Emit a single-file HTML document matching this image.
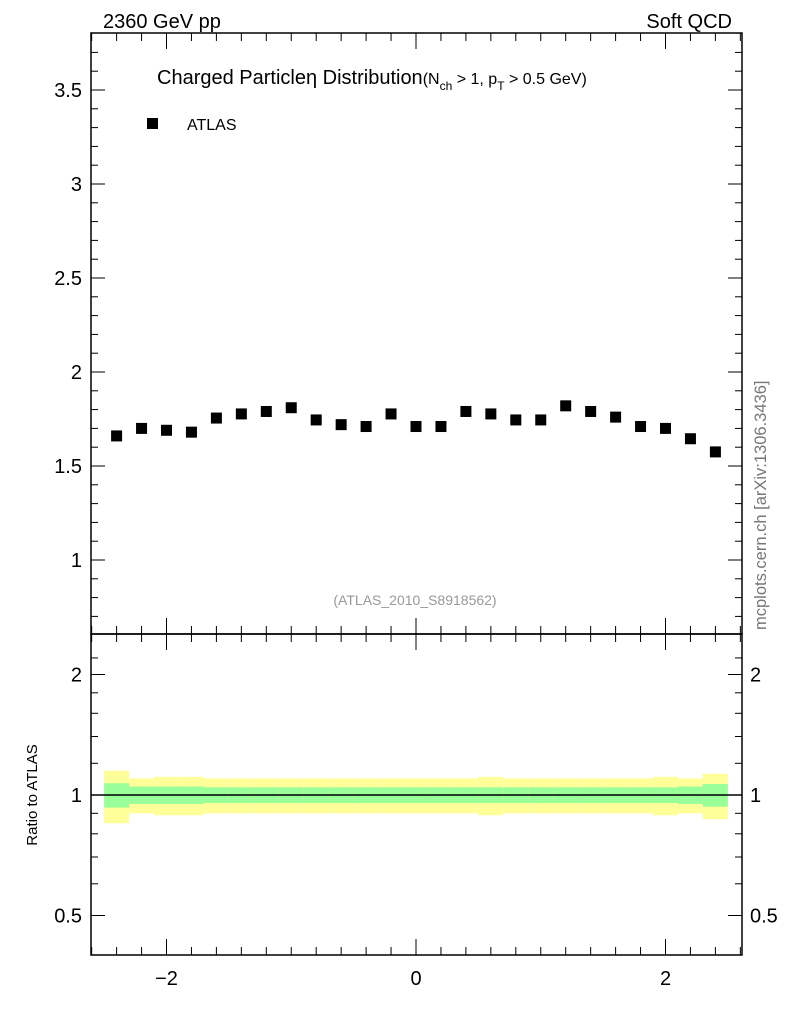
<!DOCTYPE html>
<html><head><meta charset="utf-8"><style>
body{margin:0;background:#fff;font-family:"Liberation Sans",sans-serif}
svg text{font-family:"Liberation Sans",sans-serif}
</style></head><body>
<svg width="786" height="1024" xmlns="http://www.w3.org/2000/svg">
<text x="103" y="28" font-size="20">2360 GeV pp</text>
<text x="732" y="28" font-size="20" text-anchor="end">Soft QCD</text>
<text x="157" y="84" font-size="20">Charged Particleη Distribution<tspan font-size="16">(N</tspan><tspan font-size="12" dy="6">ch</tspan><tspan font-size="16" dy="-6"> &gt; 1, p</tspan><tspan font-size="12" dy="6">T</tspan><tspan font-size="16" dy="-6"> &gt; 0.5 GeV)</tspan></text>
<rect x="147" y="118" width="11" height="11" fill="#000"/>
<text x="187" y="130" font-size="16">ATLAS</text>
<text x="415" y="605" font-size="14" fill="#999" text-anchor="middle">(ATLAS_2010_S8918562)</text>
<text transform="translate(766,630) rotate(-90)" font-size="16.5" fill="#777">mcplots.cern.ch [arXiv:1306.3436]</text>
<text transform="translate(37,795) rotate(-90)" font-size="15" text-anchor="middle">Ratio to ATLAS</text>
<g id="bands"></g>
<g id="axes"></g>
<g id="pts"></g>
</svg>
<script>
const etas=[-2.4,-2.2,-2.0,-1.8,-1.6,-1.4,-1.2,-1.0,-0.8,-0.6,-0.4,-0.2,0,0.2,0.4,0.6,0.8,1.0,1.2,1.4,1.6,1.8,2.0,2.2,2.4];
const values=[1.66,1.70,1.69,1.68,1.755,1.777,1.79,1.81,1.745,1.72,1.71,1.777,1.71,1.71,1.79,1.777,1.745,1.745,1.82,1.79,1.76,1.71,1.70,1.645,1.575];
const statErr=[0.07,0.05,0.05,0.05,0.045,0.045,0.045,0.045,0.045,0.045,0.045,0.045,0.045,0.045,0.045,0.045,0.045,0.045,0.045,0.045,0.045,0.045,0.045,0.05,0.065];
const totErr=[0.15,0.1,0.11,0.11,0.1,0.1,0.1,0.1,0.1,0.1,0.1,0.1,0.1,0.1,0.1,0.11,0.1,0.1,0.1,0.1,0.1,0.1,0.11,0.1,0.13];
const mainTicks=[1,1.5,2,2.5,3,3.5];
const ratioTicks=[0.5,1,2];
const xTicks=[-2,0,2];
const NS="http://www.w3.org/2000/svg";
const L=91,R=742,T=33,MB=634,RB=955;
const X=e=>416+e*124.75;
const Y=v=>560-(v-1)*188;
const YR=r=>795-Math.log2(r)*120.5;
function mk(tag,attrs,parent){const el=document.createElementNS(NS,tag);for(const k in attrs)el.setAttribute(k,attrs[k]);document.getElementById(parent).appendChild(el);return el;}
etas.forEach((e,i)=>{
 const x0=X(e-0.1),w=X(e+0.1)-x0;
 let r=mk('rect',{x:x0,y:YR(1+totErr[i]),width:w,height:YR(1-totErr[i])-YR(1+totErr[i]),fill:'#ffff99'},'bands');
 
 
 r=mk('rect',{x:x0,y:YR(1+statErr[i]),width:w,height:YR(1-statErr[i])-YR(1+statErr[i]),fill:'#99ff99'},'bands');
 
 
 const p=mk('rect',{x:X(e)-5.5,y:Y(values[i])-5.5,width:11,height:11,fill:'#000'},'pts');
 
 
});
const ax='axes';
mk('rect',{x:L,y:T,width:R-L,height:MB-T,fill:'none',stroke:'#000','stroke-width':1.5},ax);
mk('rect',{x:L,y:MB,width:R-L,height:RB-MB,fill:'none',stroke:'#000','stroke-width':1.5},ax);
mk('line',{x1:L,x2:R,y1:YR(1),y2:YR(1),stroke:'#000','stroke-width':1.5},ax);
for(let v=0.7;v<=3.8;v+=0.1){const y=Y(v);if(y<T||y>MB)continue;const big=Math.abs(v*2-Math.round(v*2))<1e-6;const l=big?14:7;
 mk('line',{x1:L,x2:L+l,y1:y,y2:y,stroke:'#000'},ax);mk('line',{x1:R-l,x2:R,y1:y,y2:y,stroke:'#000'},ax);}
mainTicks.forEach(v=>{const t=mk('text',{x:82,y:Y(v)+7,'font-size':20,'text-anchor':'end'},ax);t.textContent=String(v);
 
 });
[0.5,0.6,0.7,0.8,0.9,1,1.2,1.4,1.6,1.8,2,2.2].forEach(r=>{const y=YR(r);if(y<MB||y>RB)return;const big=ratioTicks.includes(r);const l=big?14:7;
 mk('line',{x1:L,x2:L+l,y1:y,y2:y,stroke:'#000'},ax);mk('line',{x1:R-l,x2:R,y1:y,y2:y,stroke:'#000'},ax);});
ratioTicks.forEach(r=>{let t=mk('text',{x:82,y:YR(r)+7,'font-size':20,'text-anchor':'end'},ax);t.textContent=String(r);
 
 
 t=mk('text',{x:750,y:YR(r)+7,'font-size':20},ax);t.textContent=String(r);
 
 });
for(let e=-2.6;e<=2.61;e+=0.2){const x=X(e);if(x<L||x>R)continue;
 [[T,1],[MB,-1],[MB,1],[RB,-1]].forEach(([y0,d])=>mk('line',{x1:x,x2:x,y1:y0,y2:y0+d*8,stroke:'#000'},ax));}
xTicks.forEach(e=>{const x=X(e);[[T,1],[MB,-1],[MB,1],[RB,-1]].forEach(([y0,d])=>mk('line',{x1:x,x2:x,y1:y0,y2:y0+d*16,stroke:'#000'},ax));
 const t=mk('text',{x:x,y:985,'font-size':20,'text-anchor':'middle'},ax);t.textContent=e<0?'−'+(-e):String(e);
 
 });
</script>
</body></html>
